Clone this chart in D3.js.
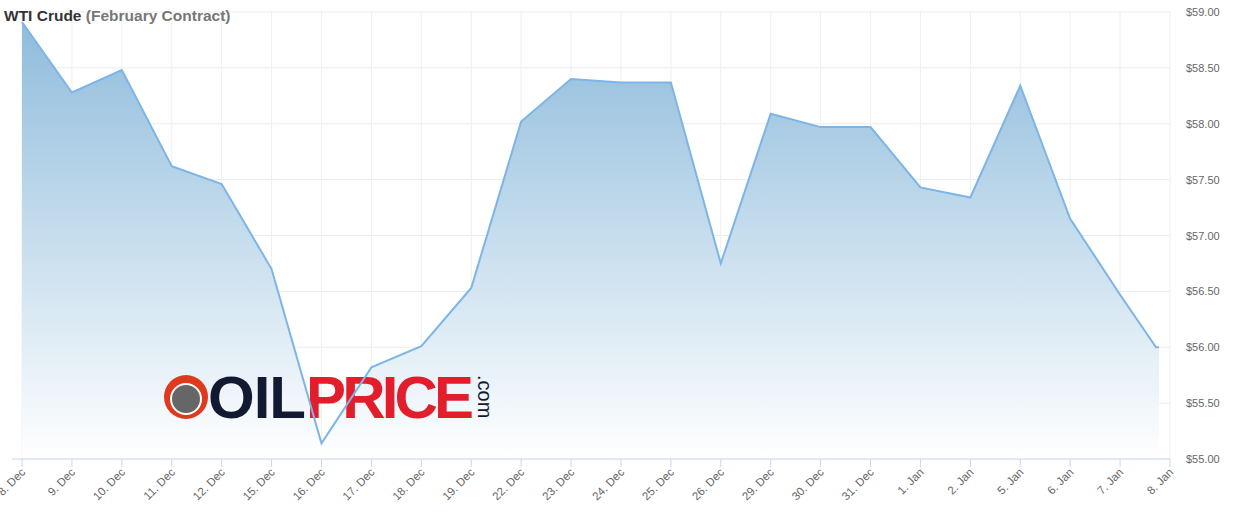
<!DOCTYPE html>
<html><head><meta charset="utf-8">
<script src="https://cdn.jsdelivr.net/npm/d3@7"></script>
<style>body{margin:0;background:#fff;font-family:Arial,"Liberation Sans",sans-serif}</style>
</head><body><svg id="c" width="1235" height="516"></svg>
<script>
const categories=["8. Dec","9. Dec","10. Dec","11. Dec","12. Dec","15. Dec","16. Dec","17. Dec","18. Dec","19. Dec","22. Dec","23. Dec","24. Dec","25. Dec","26. Dec","29. Dec","30. Dec","31. Dec","1. Jan","2. Jan","5. Jan","6. Jan","7. Jan","8. Jan"];
const values=[58.91,58.28,58.48,57.62,57.46,56.70,55.14,55.82,56.01,56.53,58.02,58.40,58.37,58.37,56.75,58.09,57.97,57.97,57.43,57.34,58.34,57.15,56.47,56.00];
// intraday position of each point within its day slot (last point is a partial day)
const offsets=[0,0,0,0,0,0,0,0,0,0,0,0,0,0,0,0,0,0,0,0,0,0,0,-0.28];
const yTicks=[55,55.5,56,56.5,57,57.5,58,58.5,59];
const svg=d3.select("#c");
const L=22,R=1170,T=12,B=459;
const x=d3.scalePoint().domain(categories).range([L,R]);
const step=x.step();
const y=d3.scaleLinear().domain([55,59]).range([B,T]);
const defs=svg.append("defs");
const g=defs.append("linearGradient").attr("id","gr").attr("x1",0).attr("y1",0).attr("x2",0).attr("y2",1);
g.append("stop").attr("offset","0%").attr("stop-color","#8fbcdc");
g.append("stop").attr("offset","100%").attr("stop-color","#ffffff");
svg.append("g").selectAll("line").data(yTicks).join("line").attr("x1",L).attr("x2",R).attr("y1",d=>y(d)).attr("y2",d=>y(d)).attr("stroke","#ebebeb");
svg.append("g").selectAll("line").data(categories).join("line").attr("x1",d=>x(d)).attr("x2",d=>x(d)).attr("y1",T).attr("y2",B).attr("stroke","#efefef");
const data=categories.map((c,i)=>({c,v:values[i],px:x(c)+offsets[i]*step}));
data.push({v:values[values.length-1],px:data[data.length-1].px+3});
svg.append("path").datum(data).attr("fill","url(#gr)").attr("d",d3.area().x(d=>d.px).y0(B).y1(d=>y(d.v)));
const lg=svg.append("g");
lg.append("circle").attr("cx",186).attr("cy",397).attr("r",22).attr("fill","#e03a1e");
lg.append("circle").attr("cx",186).attr("cy",399).attr("r",15).attr("fill","#666").attr("stroke","#fff").attr("stroke-width",2);
lg.append("text").attr("x",208).attr("y",418).attr("font-size",60).attr("font-weight","bold").attr("fill","#111a30").attr("font-family","Liberation Sans, Arial").attr("textLength",98).text("OIL");
lg.append("text").attr("x",306).attr("y",418).attr("font-size",60).attr("font-weight","bold").attr("fill","#e31e2c").attr("font-family","Liberation Sans, Arial").attr("textLength",168).text("PRICE");
lg.append("text").attr("transform","translate(478,375) rotate(90)").attr("font-size",20).attr("fill","#111a30").text(".com");
svg.append("path").datum(data).attr("fill","none").attr("stroke","#7cb5e6").attr("stroke-width",2).attr("d",d3.line().x(d=>d.px).y(d=>y(d.v)));
svg.append("line").attr("x1",L-10).attr("x2",R).attr("y1",B).attr("y2",B).attr("stroke","#ccd6eb");
svg.append("g").selectAll("line").data(categories).join("line").attr("x1",d=>x(d)).attr("x2",d=>x(d)).attr("y1",B).attr("y2",B+8).attr("stroke","#ccd6eb");
svg.append("g").selectAll("text").data(categories).join("text").attr("text-anchor","end").attr("font-size",11.5).attr("fill","#666")
 .attr("transform",d=>`translate(${x(d)+4},${B+14}) rotate(-45)`).text(d=>d);
svg.append("g").selectAll("text").data(yTicks).join("text").attr("x",1186).attr("y",d=>y(d)+4).attr("font-size",11).attr("fill","#666").text(d=>"$"+d.toFixed(2));
const t=svg.append("text").attr("x",4).attr("y",21).attr("font-size",15.5).attr("font-weight","bold");
t.append("tspan").attr("fill","#333").text("WTI Crude ");
t.append("tspan").attr("fill","#777").text("(February Contract)");
</script></body></html>
